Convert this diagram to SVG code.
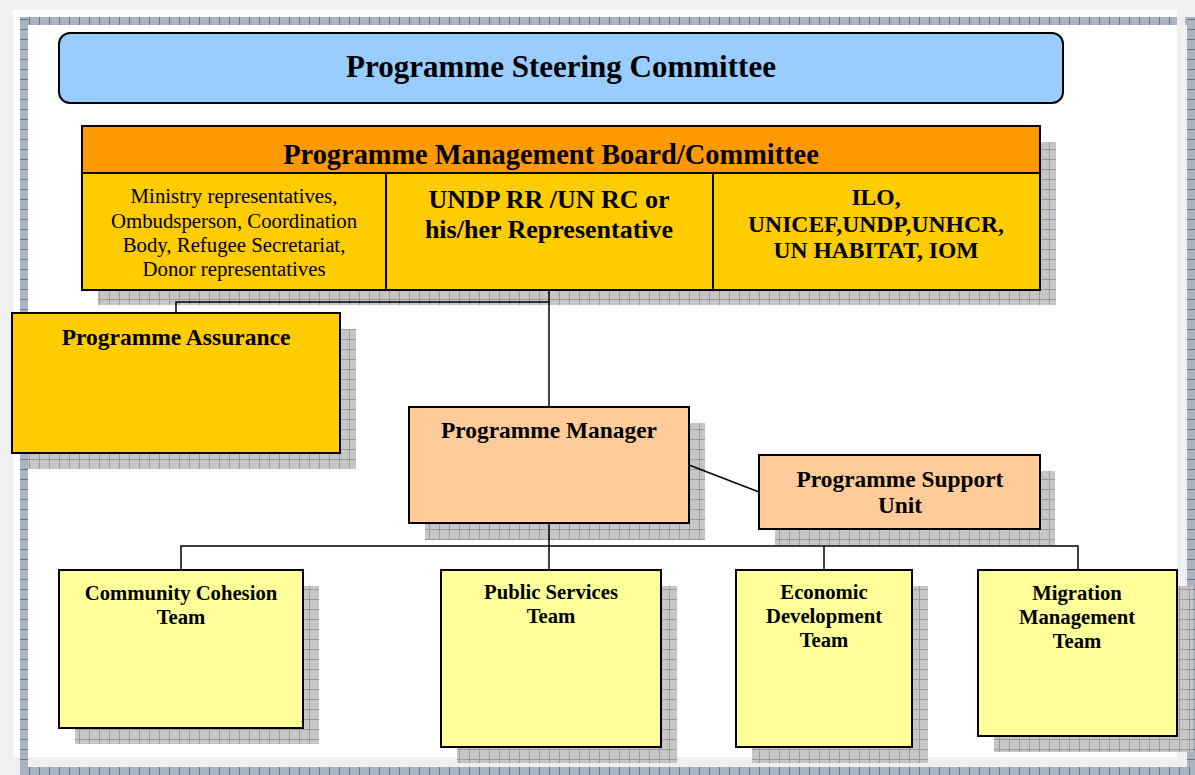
<svg xmlns="http://www.w3.org/2000/svg" width="1195" height="775" viewBox="0 0 1195 775">
<defs>
<pattern id="shp" width="10" height="10" patternUnits="userSpaceOnUse">
<rect width="10" height="10" fill="#c6c6c6"/>
<path d="M9.5 0V10M0 9.5H10" stroke="#9c9c9c" stroke-width="1"/>
</pattern>
<pattern id="bdh" width="10" height="8" patternUnits="userSpaceOnUse">
<rect width="10" height="8" fill="#a9b4c3"/>
<path d="M9.5 0V8" stroke="#66768c" stroke-width="1"/>
</pattern>
<pattern id="bdv" width="8" height="10" patternUnits="userSpaceOnUse">
<rect width="8" height="10" fill="#a9b4c3"/>
<path d="M0 9.5H8" stroke="#66768c" stroke-width="1"/>
</pattern>
</defs>
<style>
.box{stroke:#000;stroke-width:2}
.sh{fill:url(#shp)}
.t{font-family:"Liberation Serif","Times New Roman",serif;font-weight:bold;text-anchor:middle;fill:#000}
.r{font-family:"Liberation Serif","Times New Roman",serif;text-anchor:middle;fill:#000;font-size:20.8px}
.c{fill:none;stroke:#000;stroke-width:1.5}
</style>
<rect width="1195" height="775" fill="#f0f0f0"/>
<rect x="13" y="10" width="1164" height="747" fill="#fff"/>
<g id="frame">
<rect x="20" y="17" width="1157" height="8" fill="url(#bdh)"/>
<rect x="1185" y="17" width="10" height="8" fill="url(#bdh)"/>
<rect x="20" y="17" width="8" height="758" fill="url(#bdv)"/>
<rect x="1187" y="17" width="8" height="758" fill="url(#bdv)"/>
<rect x="20" y="767" width="1175" height="8" fill="url(#bdh)"/>
</g>
<g id="steering">
<rect x="59" y="33" width="1004" height="70" rx="11" fill="#99ccff" class="box"/>
<text x="561" y="77" class="t" font-size="31">Programme Steering Committee</text>
</g>
<g id="board">
<rect x="98" y="142" width="958" height="163" class="sh"/>
<rect x="82" y="126" width="958" height="164" fill="#ffcc00" class="box"/>
<rect x="82" y="126" width="958" height="47" fill="#ff9900" class="box"/>
<line x1="386" y1="173" x2="386" y2="290" class="box"/>
<line x1="713" y1="173" x2="713" y2="290" class="box"/>
<text x="551" y="164" class="t" font-size="28.4">Programme Management Board/Committee</text>
<text class="r"><tspan x="234" y="203">Ministry representatives,</tspan><tspan x="234" y="228">Ombudsperson, Coordination</tspan><tspan x="234" y="252">Body, Refugee Secretariat,</tspan><tspan x="234" y="276">Donor representatives</tspan></text>
<text class="t" font-size="26"><tspan x="549" y="208">UNDP RR /UN RC or</tspan><tspan x="549" y="238">his/her Representative</tspan></text>
<text class="t" font-size="23.6"><tspan x="876" y="205">ILO,</tspan><tspan x="876" y="232">UNICEF,UNDP,UNHCR,</tspan><tspan x="876" y="258">UN HABITAT, IOM</tspan></text>
</g>
<g id="assurance">
<rect x="28" y="329" width="328" height="140" class="sh"/>
<rect x="12" y="313" width="328" height="140" fill="#ffcc00" class="box"/>
<text x="176" y="345" class="t" font-size="23.5">Programme Assurance</text>
</g>
<g id="manager">
<rect x="425" y="423" width="280" height="117" class="sh"/>
<rect x="409" y="407" width="280" height="116" fill="#ffcc99" class="box"/>
<text x="549" y="438" class="t" font-size="23.4">Programme Manager</text>
</g>
<g id="support">
<rect x="775" y="471" width="280" height="74" class="sh"/>
<rect x="759" y="455" width="281" height="74" fill="#ffcc99" class="box"/>
<text class="t" font-size="23.4"><tspan x="900" y="487">Programme Support</tspan><tspan x="900" y="513">Unit</tspan></text>
</g>
<g id="community">
<rect x="75" y="586" width="244" height="158" class="sh"/>
<rect x="59" y="570" width="244" height="158" fill="#ffff99" class="box"/>
<text class="t" font-size="20.7"><tspan x="181" y="600">Community Cohesion</tspan><tspan x="181" y="624">Team</tspan></text>
</g>
<g id="public">
<rect x="457" y="586" width="220" height="177" class="sh"/>
<rect x="441" y="570" width="220" height="177" fill="#ffff99" class="box"/>
<text class="t" font-size="20.7"><tspan x="551" y="599">Public Services</tspan><tspan x="551" y="623">Team</tspan></text>
</g>
<g id="economic">
<rect x="752" y="586" width="176" height="177" class="sh"/>
<rect x="736" y="570" width="176" height="177" fill="#ffff99" class="box"/>
<text class="t" font-size="20.7"><tspan x="824" y="599">Economic</tspan><tspan x="824" y="623">Development</tspan><tspan x="824" y="647">Team</tspan></text>
</g>
<g id="migration">
<rect x="994" y="586" width="199" height="166" class="sh"/>
<rect x="978" y="570" width="199" height="166" fill="#ffff99" class="box"/>
<text class="t" font-size="20.7"><tspan x="1077" y="600">Migration</tspan><tspan x="1077" y="624">Management</tspan><tspan x="1077" y="648">Team</tspan></text>
</g>
<g id="connectors">
<path d="M549 291V406" class="c"/>
<path d="M549 302H176V312" class="c"/>
<path d="M689 465L759 492" class="c"/>
<path d="M549 524V569" class="c"/>
<path d="M181 569V546H1078V569" class="c"/>
<path d="M824 546V569" class="c"/>
</g>
</svg>
